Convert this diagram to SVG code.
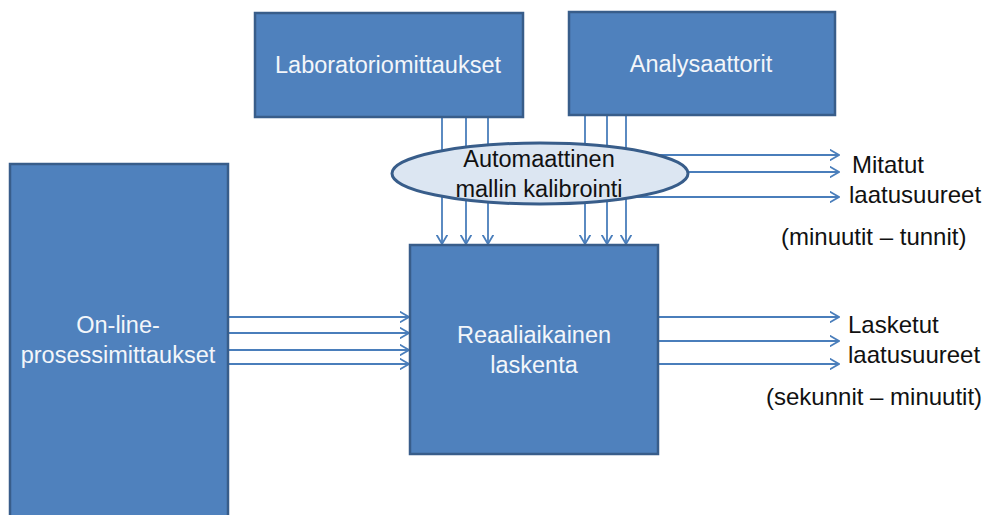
<svg xmlns="http://www.w3.org/2000/svg" width="990" height="515" viewBox="0 0 990 515">
  <defs>
    <marker id="open-arrow" viewBox="0 0 10 12" refX="9.5" refY="6" markerWidth="10" markerHeight="12" markerUnits="userSpaceOnUse" orient="auto">
      <path d="M0,0.5 L9.5,6 L0,11.5" fill="none" stroke="#4a7ebb" stroke-width="1.8"/>
    </marker>
  </defs>
  <style>
    .box { fill: #4f81bd; stroke: #385d8a; stroke-width: 2.5; }
    .oval { fill: #dce6f2; stroke: #385d8a; stroke-width: 3; }
    .flow { fill: none; stroke: #4a7ebb; stroke-width: 1.8; marker-end: url(#open-arrow); }
    .in-box { font-family: "Liberation Sans", Arial, sans-serif; font-size: 23.5px; fill: #f3f6fa; text-anchor: middle; }
    .dark { font-family: "Liberation Sans", Arial, sans-serif; font-size: 23.5px; fill: #111111; }
    .mid { text-anchor: middle; }
  </style>

  <rect width="990" height="515" fill="#ffffff"/>

  <!-- signal lines (drawn first so the oval sits on top of them) -->
  <g id="connectors">
    <!-- laboratory measurements down to the real-time block -->
    <line class="flow" x1="442" y1="118" x2="442" y2="244"/>
    <line class="flow" x1="466" y1="118" x2="466" y2="244"/>
    <line class="flow" x1="488" y1="118" x2="488" y2="244"/>
    <!-- analyser outputs down to the real-time block -->
    <line class="flow" x1="585" y1="116" x2="585" y2="244"/>
    <line class="flow" x1="607" y1="116" x2="607" y2="244"/>
    <line class="flow" x1="626" y1="116" x2="626" y2="244"/>
    <!-- measured quality variables -->
    <line class="flow" x1="600" y1="155" x2="839" y2="155"/>
    <line class="flow" x1="600" y1="172" x2="839" y2="172"/>
    <line class="flow" x1="600" y1="197" x2="839" y2="197"/>
    <!-- on-line process measurements -->
    <line class="flow" x1="229" y1="317" x2="409" y2="317"/>
    <line class="flow" x1="229" y1="333" x2="409" y2="333"/>
    <line class="flow" x1="229" y1="350" x2="409" y2="350"/>
    <line class="flow" x1="229" y1="364" x2="409" y2="364"/>
    <!-- computed quality variables -->
    <line class="flow" x1="659" y1="317" x2="839" y2="317"/>
    <line class="flow" x1="659" y1="341" x2="839" y2="341"/>
    <line class="flow" x1="659" y1="364" x2="839" y2="364"/>
  </g>

  <g id="laboratoriomittaukset">
    <rect class="box" x="255" y="13" width="268" height="104"/>
    <text class="in-box" x="388" y="73">Laboratoriomittaukset</text>
  </g>

  <g id="analysaattorit">
    <rect class="box" x="569" y="12" width="266" height="103"/>
    <text class="in-box" x="701" y="72">Analysaattorit</text>
  </g>

  <g id="kalibrointi">
    <ellipse class="oval" cx="540" cy="173.5" rx="148" ry="30.5"/>
    <text class="dark mid" x="539" y="167">Automaattinen</text>
    <text class="dark mid" x="539" y="197">mallin kalibrointi</text>
  </g>

  <g id="prosessimittaukset">
    <rect class="box" x="10" y="164" width="218" height="360"/>
    <text class="in-box" x="118" y="333">On-line-</text>
    <text class="in-box" x="118" y="363">prosessimittaukset</text>
  </g>

  <g id="laskenta">
    <rect class="box" x="410" y="245" width="248" height="209"/>
    <text class="in-box" x="534" y="343">Reaaliaikainen</text>
    <text class="in-box" x="534" y="373">laskenta</text>
  </g>

  <g id="mitatut-label">
    <text class="dark" x="852" y="173" style="font-size:24px">Mitatut</text>
    <text class="dark" x="849" y="203" style="font-size:24px">laatusuureet</text>
    <text class="dark" x="781" y="245" style="font-size:24px">(minuutit – tunnit)</text>
  </g>

  <g id="lasketut-label">
    <text class="dark" x="848" y="333" style="font-size:24px">Lasketut</text>
    <text class="dark" x="848" y="363" style="font-size:24px">laatusuureet</text>
    <text class="dark" x="766" y="405" style="font-size:24px">(sekunnit – minuutit)</text>
  </g>
</svg>
